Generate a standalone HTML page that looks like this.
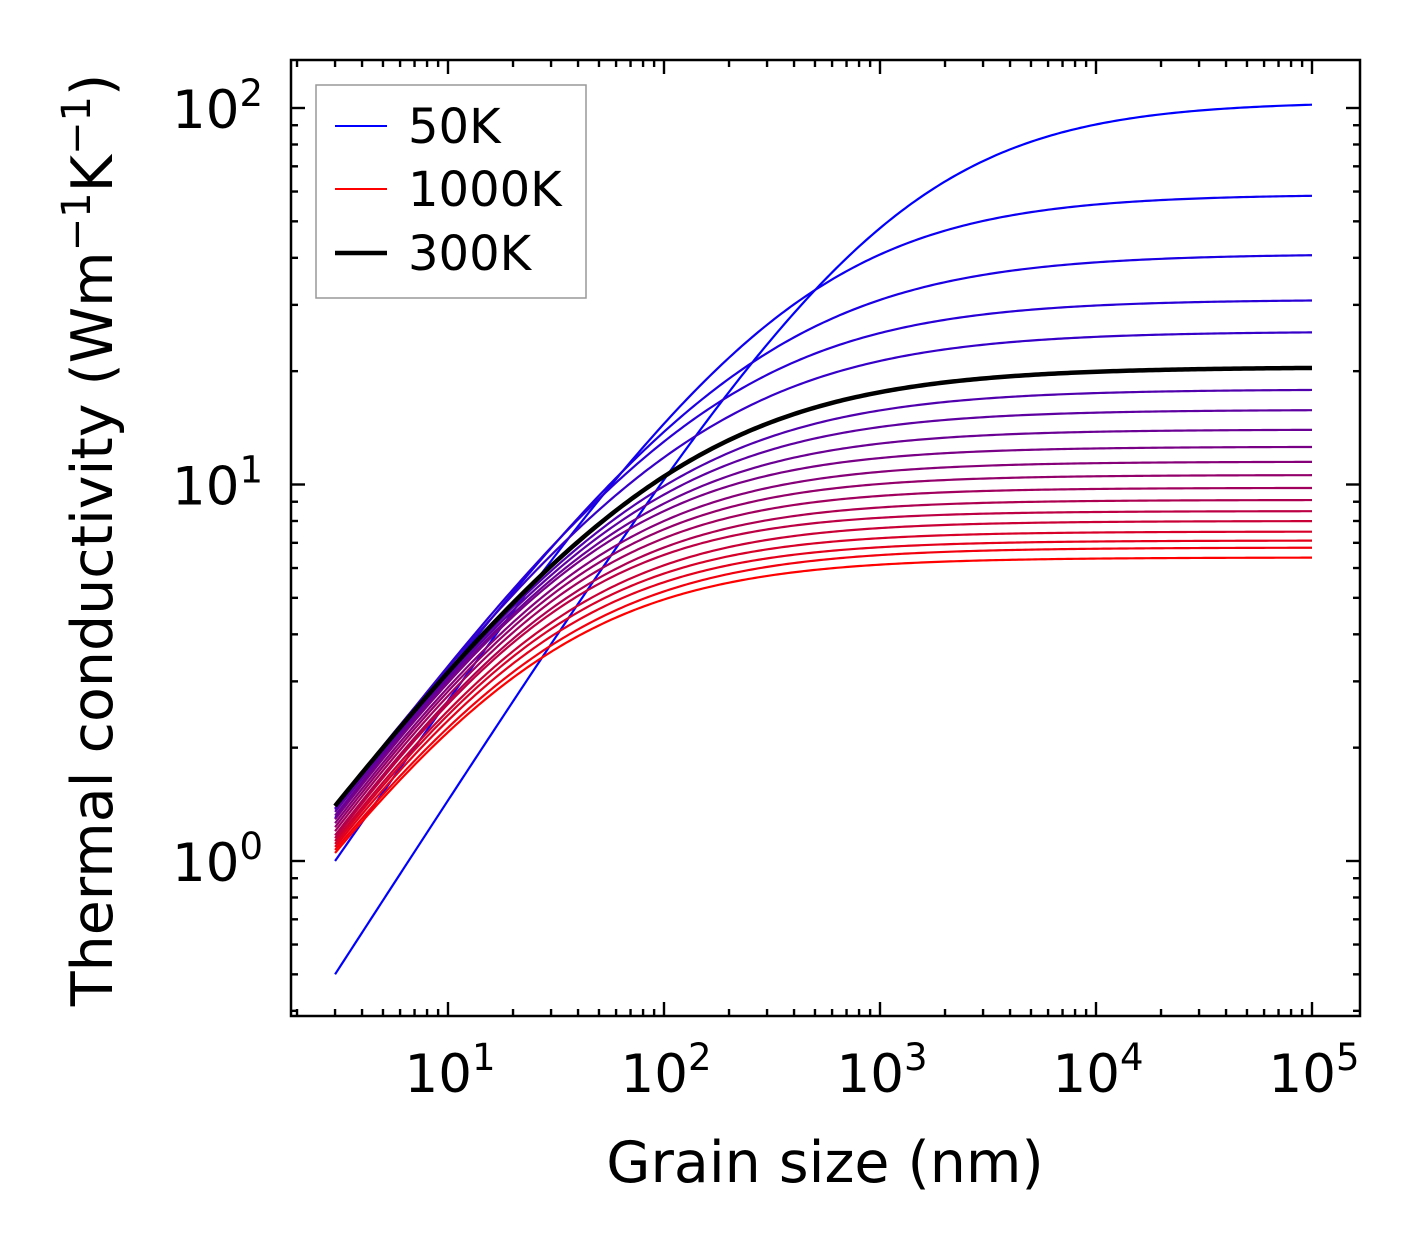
<!DOCTYPE html>
<html><head><meta charset="utf-8"><style>
body{margin:0;background:#fff}
svg text{font-family:"DejaVu Sans","Liberation Sans",sans-serif;fill:#000}
</style></head><body>
<svg id="chart" width="1421" height="1254" viewBox="0 0 1421 1254" xmlns="http://www.w3.org/2000/svg">
<g id="curves"></g>
<g id="ticks"></g>
<rect x="291" y="60" width="1069" height="956" fill="none" stroke="#000" stroke-width="2.5"/>
<g id="labels"></g>
<text x="825" y="1182" font-size="57" text-anchor="middle">Grain size (nm)</text>
<text transform="translate(112,540) rotate(-90)" font-size="57" text-anchor="middle">Thermal conductivity (Wm<tspan dy="-22" font-size="40">−1</tspan><tspan dy="22">K</tspan><tspan dy="-22" font-size="40">−1</tspan><tspan dy="22">)</tspan></text>
<g>
<rect x="316" y="85" width="270" height="213" fill="#fff" stroke="#999" stroke-width="1.5"/>
<line x1="335" y1="126" x2="387" y2="126" stroke="#0000ff" stroke-width="2"/>
<text x="408" y="143" font-size="48">50K</text>
<line x1="335" y1="189" x2="387" y2="189" stroke="#ff0000" stroke-width="2"/>
<text x="408" y="206" font-size="48">1000K</text>
<line x1="335" y1="253" x2="387" y2="253" stroke="#000" stroke-width="4.5"/>
<text x="408" y="270" font-size="48">300K</text>
</g>
</svg>
<script>
const temps=[50,100,150,200,250,300,350,400,450,500,550,600,650,700,750,800,850,900,950,1000];
const kAt3nm=[0.5,1.0,1.30,1.37,1.40,1.40,1.38,1.35,1.32,1.29,1.26,1.23,1.20,1.17,1.15,1.13,1.11,1.09,1.07,1.05];
const kAt100nm=[10.3,14.5,13.8,13.0,11.8,10.5,9.9,9.4,8.9,8.5,8.0,7.6,7.2,6.8,6.5,6.1,5.8,5.5,5.2,4.95];
const kPlateau=[104,59,41,31,25.5,20.5,17.9,15.8,14.0,12.6,11.5,10.6,9.8,9.1,8.5,8.0,7.5,7.1,6.8,6.4];
const xTicks=[1,2,3,4,5];
const yTicks=[0,1,2];
const NS="http://www.w3.org/2000/svg";
const X=v=>448+216*(Math.log10(v)-1);
const Y=v=>861-376.5*Math.log10(v);
function mk(tag,attrs,parent){const e=document.createElementNS(NS,tag);for(const k in attrs)e.setAttribute(k,attrs[k]);parent.appendChild(e);return e;}
const cg=document.getElementById('curves');
function curvePath(i){
  const kinf=kPlateau[i],a=kinf/kAt3nm[i]-1,b=kinf/kAt100nm[i]-1;
  const s=Math.log(a/b)/Math.log(100/3),c=a*Math.pow(3,s);
  let d="";
  for(let j=0;j<=300;j++){const L=Math.pow(10,Math.log10(3)+j*(5-Math.log10(3))/300);
    const k=kinf/(1+c*Math.pow(L,-s));d+=(j?"L":"M")+X(L).toFixed(2)+","+Y(k).toFixed(2);}
  return d;
}
temps.forEach((t,i)=>{
  const f=i/(temps.length-1);
  const col=`rgb(${Math.round(255*f)},0,${Math.round(255*(1-f))})`;
  const p=mk('path',{d:curvePath(i),fill:'none',stroke:col,'stroke-width':2.2},cg);
  
  
});
const bi=temps.indexOf(300);
const bp=mk('path',{d:curvePath(bi),fill:'none',stroke:'#000','stroke-width':4.5},cg);


const tg=document.getElementById('ticks');
function tick(x1,y1,x2,y2){mk('line',{x1,y1,x2,y2,stroke:'#000','stroke-width':2.4},tg);}
for(let e=0;e<=5;e++)for(let m=1;m<10;m++){const v=m*Math.pow(10,e);const x=X(v);if(x<292||x>1359)continue;
  const len=m===1?14:7;tick(x,1016,x,1016-len);tick(x,60,x,60+len);}
for(let e=-1;e<=2;e++)for(let m=1;m<10;m++){const v=m*Math.pow(10,e);const y=Y(v);if(y<61||y>1015)continue;
  const len=m===1?14:7;tick(291,y,291+len,y);tick(1360,y,1360-len,y);}
const lg=document.getElementById('labels');
xTicks.forEach(e=>{const t=mk('text',{x:X(Math.pow(10,e))+2,y:1092,'font-size':53,'text-anchor':'middle'},lg);
  t.innerHTML='10<tspan dy="-22" font-size="37">'+e+'</tspan>';
  
  });
yTicks.forEach(e=>{const t=mk('text',{x:263,y:Y(Math.pow(10,e))+20,'font-size':53,'text-anchor':'end'},lg);
  t.innerHTML='10<tspan dy="-22" font-size="37">'+e+'</tspan>';
  
  });
</script>
</body></html>
